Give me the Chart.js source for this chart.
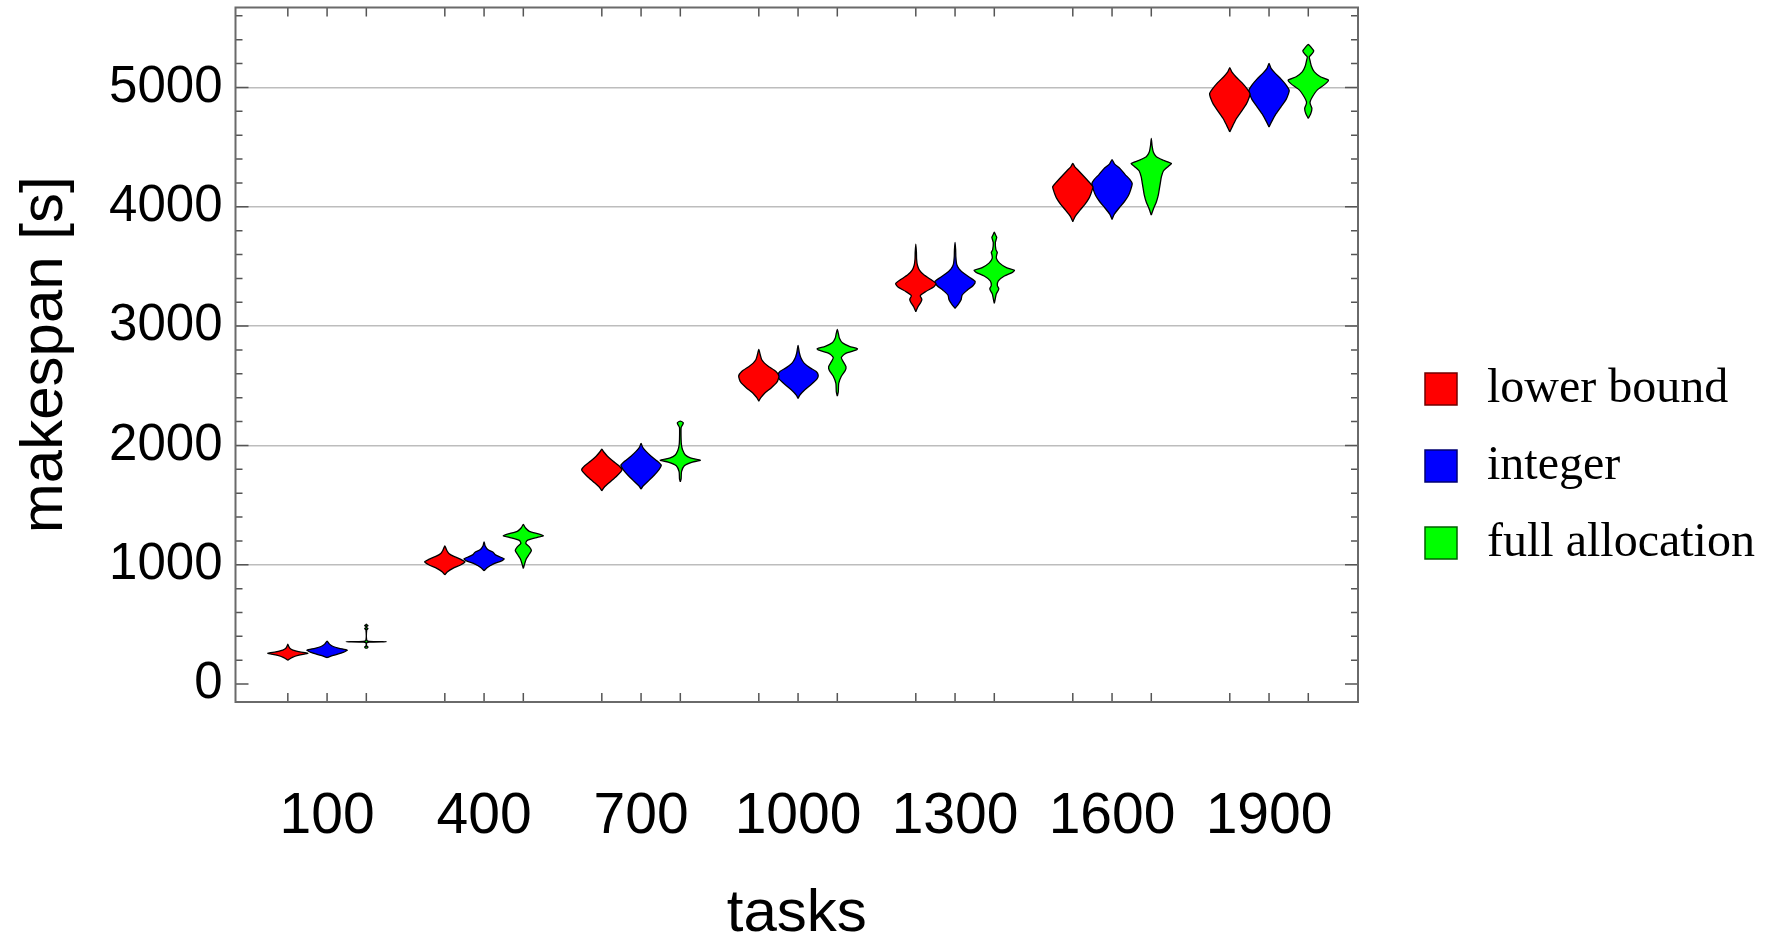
<!DOCTYPE html>
<html>
<head>
<meta charset="utf-8">
<script src="https://cdn.jsdelivr.net/npm/chart.js@4.4.1/dist/chart.umd.min.js"></script>
<style>
  html, body { margin: 0; padding: 0; background: #fff; }
  #wrap { width: 1775px; height: 940px; }
</style>
</head>
<body>
<div id="wrap"><canvas id="chart"></canvas></div>
<script>
// ── Dados ────────────────────────────────────────────────────
const tasks = [100, 400, 700, 1000, 1300, 1600, 1900];
const seriesLabels = ['lower bound', 'integer', 'full allocation'];
const yLabelValues = [0, 1000, 2000, 3000, 4000, 5000];
const yMinorStep = 200;

// perfil de cada violino: [makespan, largura relativa 0..1], de baixo para cima
const lowerBound = [
    [[200,0],[222,0.2],[242,0.55],[257,1],[270,0.6],[285,0.25],[300,0.1],[318,0.04],[335,0]],
    [[916,0],[940,0.12],[970,0.4],[1000,0.8],[1025,1],[1045,0.8],[1070,0.45],[1095,0.2],[1120,0.1],[1140,0.05],[1159,0]],
    [[1620,0],[1650,0.12],[1690,0.38],[1740,0.72],[1780,0.95],[1798,1],[1830,0.85],[1870,0.55],[1910,0.28],[1945,0.1],[1968,0]],
    [[2372,0],[2400,0.1],[2440,0.3],[2480,0.6],[2530,0.9],[2581,1],[2620,0.85],[2660,0.5],[2690,0.28],[2720,0.14],[2760,0.07],[2804,0]],
    [[3120,0],[3160,0.1],[3200,0.25],[3225,0.3],[3255,0.22],[3290,0.5],[3330,0.9],[3358,1],[3390,0.75],[3430,0.4],[3470,0.18],[3510,0.08],[3560,0.04],[3620,0.03],[3687,0]],
    [[3875,0],[3920,0.12],[3970,0.35],[4020,0.6],[4070,0.8],[4110,0.9],[4140,0.96],[4168,1],[4200,0.85],[4250,0.58],[4300,0.3],[4335,0.1],[4363,0]],
    [[4628,0],[4680,0.15],[4740,0.33],[4800,0.58],[4860,0.82],[4920,0.97],[4950,1],[4990,0.85],[5040,0.6],[5090,0.3],[5130,0.1],[5165,0]],
];
const integer = [
    [[221,0],[240,0.3],[265,0.8],[285,1],[300,0.6],[315,0.3],[335,0.12],[360,0]],
    [[950,0],[975,0.15],[1005,0.45],[1035,0.9],[1050,1],[1065,0.8],[1085,0.55],[1105,0.45],[1125,0.2],[1160,0.05],[1192,0]],
    [[1634,0],[1660,0.1],[1700,0.35],[1750,0.65],[1800,0.9],[1835,1],[1870,0.8],[1910,0.5],[1950,0.25],[1985,0.08],[2017,0]],
    [[2394,0],[2420,0.08],[2460,0.3],[2510,0.65],[2560,0.95],[2589,1],[2620,0.9],[2650,0.6],[2690,0.3],[2730,0.15],[2780,0.06],[2839,0]],
    [[3149,0],[3180,0.15],[3220,0.3],[3260,0.35],[3300,0.6],[3340,0.9],[3373,1],[3400,0.8],[3440,0.45],[3480,0.2],[3520,0.08],[3580,0.04],[3640,0.03],[3702,0]],
    [[3894,0],[3940,0.12],[3990,0.35],[4040,0.6],[4090,0.8],[4140,0.92],[4195,1],[4230,0.88],[4270,0.65],[4320,0.4],[4360,0.12],[4396,0]],
    [[4668,0],[4720,0.15],[4780,0.35],[4840,0.6],[4900,0.85],[4950,0.97],[4978,1],[5020,0.85],[5070,0.6],[5120,0.3],[5160,0.1],[5202,0]],
];
const fullAllocation = [
    [[299,0],[305,0.06],[311,0.08],[318,0.02],[345,0.02],[352,0.15],[355,1],[358,0.15],[368,0.02],[455,0.02],[465,0.08],[472,0.02],[483,0.02],[490,0.08],[497,0.02],[503,0]],
    [[969,0],[1000,0.05],[1050,0.15],[1090,0.3],[1120,0.4],[1150,0.3],[1180,0.12],[1205,0.2],[1230,0.7],[1243,1],[1258,0.75],[1280,0.3],[1310,0.1],[1338,0]],
    [[1695,0],[1720,0.04],[1780,0.06],[1830,0.2],[1860,0.6],[1877,1],[1895,0.5],[1920,0.25],[1960,0.12],[2000,0.06],[2050,0.04],[2150,0.04],[2175,0.12],[2190,0.15],[2204,0]],
    [[2413,0],[2450,0.05],[2520,0.07],[2580,0.2],[2630,0.4],[2660,0.43],[2700,0.3],[2737,0.2],[2770,0.4],[2800,0.95],[2810,1],[2830,0.6],[2860,0.25],[2900,0.1],[2940,0.05],[2972,0]],
    [[3190,0],[3230,0.05],[3270,0.1],[3300,0.2],[3316,0.22],[3340,0.15],[3380,0.2],[3420,0.5],[3450,0.9],[3469,1],[3490,0.6],[3530,0.25],[3570,0.1],[3600,0.12],[3617,0.15],[3640,0.08],[3700,0.05],[3730,0.1],[3743,0.12],[3765,0.06],[3788,0]],
    [[3930,0],[3980,0.1],[4040,0.25],[4100,0.35],[4150,0.4],[4200,0.45],[4250,0.5],[4300,0.6],[4340,0.85],[4363,1],[4390,0.6],[4420,0.25],[4460,0.1],[4510,0.04],[4573,0]],
    [[4740,0],[4780,0.12],[4824,0.18],[4860,0.1],[4880,0.09],[4920,0.2],[4980,0.45],[5030,0.85],[5062,1],[5090,0.6],[5130,0.3],[5180,0.15],[5230,0.08],[5257,0.05],[5285,0.2],[5307,0.27],[5335,0.15],[5360,0]],
];

// ── Estilo ───────────────────────────────────────────────────
const seriesColors = ['#ff0000', '#0000ff', '#00ff00'];
const seriesEdges  = ['#700000', '#000070', '#006000'];
const slotOffset = [-75, 0, 75];   // deslocamento de cada série dentro do grupo (unidades de x)
const HALF_W = 38.5;               // meia largura máxima do violino (unidades de x)
const SANS = 'Liberation Sans';

function outline(center, profile) {
    const right = profile.map(([v, w]) => ({ x: center + w * HALF_W, y: v }));
    const left  = profile.slice().reverse().map(([v, w]) => ({ x: center - w * HALF_W, y: v }));
    return right.concat(left.slice(1));
}

const datasets = [];
[lowerBound, integer, fullAllocation].forEach((profiles, s) => {
    profiles.forEach((profile, g) => {
        datasets.push({
            label: seriesLabels[s],
            data: outline(tasks[g] + slotOffset[s], profile),
            showLine: true,
            fill: 'shape',
            backgroundColor: seriesColors[s],
            borderColor: '#000',
            borderWidth: 1.3,
            pointRadius: 0,
            pointHoverRadius: 0,
            tension: 0.2,
        });
    });
});

const xTickPositions = tasks.flatMap(t => slotOffset.map(o => t + o));
const yTickPositions = [];
for (let v = 0; v <= 5600; v += yMinorStep) yTickPositions.push(v);

// moldura com marcas internas (estilo Mathematica)
const framePlugin = {
    id: 'frame',
    afterDatasetsDraw(chart) {
        const { ctx, chartArea: a, scales: { x, y } } = chart;
        ctx.save();
        ctx.strokeStyle = '#555';
        ctx.lineWidth = 1.5;
        ctx.beginPath();
        x.ticks.forEach(t => {
            const px = x.getPixelForValue(t.value);
            ctx.moveTo(px, a.bottom); ctx.lineTo(px, a.bottom - 9);
            ctx.moveTo(px, a.top);    ctx.lineTo(px, a.top + 9);
        });
        y.ticks.forEach(t => {
            const py = y.getPixelForValue(t.value);
            const len = t.value % 1000 === 0 ? 13 : 7;
            ctx.moveTo(a.left, py);  ctx.lineTo(a.left + len, py);
            ctx.moveTo(a.right, py); ctx.lineTo(a.right - len, py);
        });
        ctx.stroke();
        ctx.strokeStyle = '#6a6a6a';
        ctx.lineWidth = 2;
        ctx.strokeRect(a.left, a.top, a.right - a.left, a.bottom - a.top);
        ctx.restore();
    }
};

// legenda à direita (quadrado + texto serifado)
const legendPlugin = {
    id: 'sideLegend',
    afterDraw(chart) {
        const { ctx } = chart;
        ctx.save();
        ctx.font = '48px "Liberation Serif"';
        ctx.textBaseline = 'middle';
        ctx.textAlign = 'left';
        seriesLabels.forEach((label, i) => {
            const cy = 389 + i * 77;
            ctx.fillStyle = seriesColors[i];
            ctx.fillRect(1425, cy - 16, 32, 32);
            ctx.strokeStyle = seriesEdges[i];
            ctx.lineWidth = 1.5;
            ctx.strokeRect(1425, cy - 16, 32, 32);
            ctx.fillStyle = '#000';
            ctx.fillText(label, 1487, cy);
        });
        ctx.restore();
    }
};

new Chart(document.getElementById('chart'), {
    type: 'scatter',
    data: { datasets },
    plugins: [framePlugin, legendPlugin],
    options: {
        responsive: true,
        maintainAspectRatio: false,
        animation: false,
        layout: { autoPadding: false, padding: { left: 0, top: 7.5, right: 417, bottom: 15 } },
        plugins: {
            tooltip: { enabled: false },
            legend: { display: false },
        },
        scales: {
            x: {
                type: 'linear', min: -75, max: 2070,
                afterBuildTicks: scale => { scale.ticks = xTickPositions.map(v => ({ value: v })); },
                afterFit: scale => { scale.height = 223; scale.paddingLeft = 0; scale.paddingRight = 0; },
                ticks: {
                    autoSkip: false, maxRotation: 0, minRotation: 0, padding: 73, color: '#000',
                    font: { family: SANS, size: 57 },
                    callback: v => tasks.includes(v) ? String(v) : '',
                },
                grid: { display: false },
                border: { display: false },
                title: {
                    display: true, text: 'tasks', color: '#000',
                    font: { family: SANS, size: 60, lineHeight: 1.0 },
                    padding: { top: 0, bottom: -19 },
                },
            },
            y: {
                type: 'linear', min: -150, max: 5670,
                afterBuildTicks: scale => { scale.ticks = yTickPositions.map(v => ({ value: v })); },
                afterFit: scale => { scale.width = 235.5; scale.paddingTop = 0; scale.paddingBottom = 0; },
                ticks: {
                    autoSkip: false, padding: 13, color: '#000',
                    font: { family: SANS, size: 51 },
                    callback: v => yLabelValues.includes(v) ? String(v) : '',
                },
                grid: {
                    drawTicks: false, lineWidth: 1.5,
                    color: c => (c.tick && c.tick.value > 0 && c.tick.value % 1000 === 0) ? '#bdbdbd' : 'rgba(0,0,0,0)',
                },
                border: { display: false },
                title: {
                    display: true, text: 'makespan [s]', color: '#000',
                    font: { family: SANS, size: 60 },
                    padding: { top: 9, bottom: 0 },
                },
            },
        },
    },
});
</script>
</body>
</html>
